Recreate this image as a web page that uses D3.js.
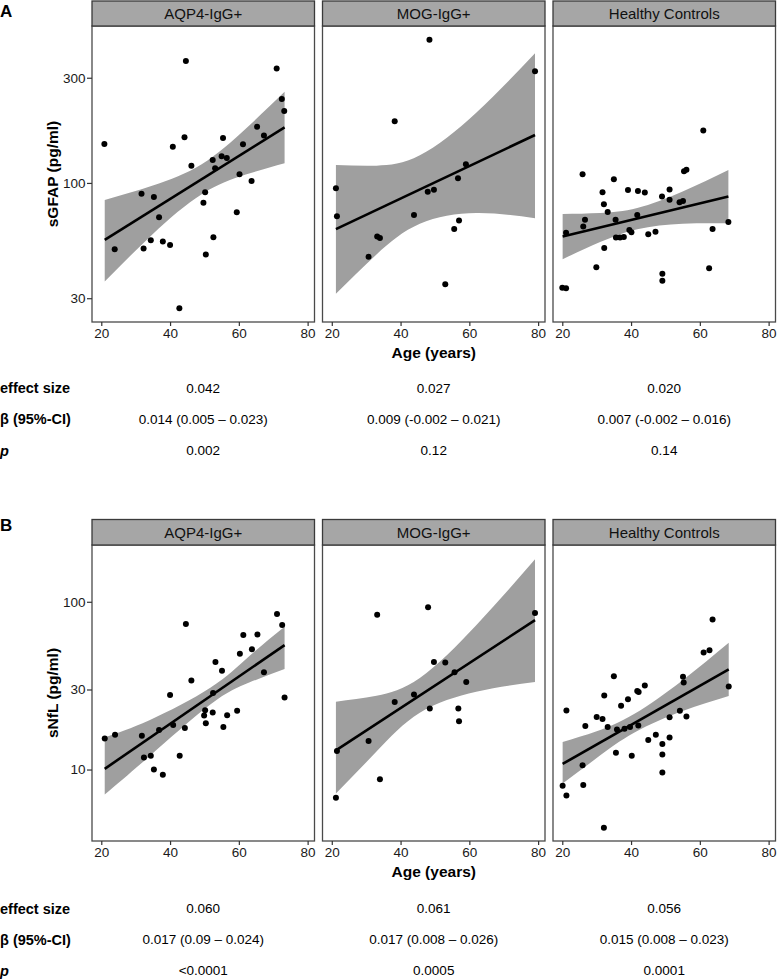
<!DOCTYPE html>
<html><head><meta charset="utf-8">
<script src="https://cdn.jsdelivr.net/npm/d3@7"></script>
<style>
body{margin:0;background:#fff}
svg{display:block}
text{font-family:"Liberation Sans",Arial,Helvetica,sans-serif}
</style>
</head><body>
<svg id="c" width="777" height="980"></svg>
<script>
// ---------- data ----------
const facets = ["AQP4-IgG+", "MOG-IgG+", "Healthy Controls"];
const xTicks = [20, 40, 60, 80];
const gfapTicks = [30, 100, 300];
const nflTicks = [10, 30, 100];

// sGFAP points [age, pg/ml]
const gfapAQP4 = [[20.9,150],[23.9,50],[31.7,89.4],[32.3,50.4],[34.4,55],[35.3,86.4],[36.8,69.9],[37.9,54.2],[40.0,52.3],[40.8,146],[42.7,27.0],[44.2,161],[44.6,357],[46.2,119.7],[49.7,81.4],[50.2,90.8],[50.4,47.3],[52.4,127],[52.6,56.7],[53.1,116.6],[55.4,160],[55.0,132],[56.5,129.8],[59.4,73.6],[60.2,109.4],[61.2,149.7],[63.7,102],[65.3,180],[67.3,164],[71.0,330],[72.5,240],[73.2,212]];
const gfapMOG = [[48.4,446],[79.1,321],[38.3,190.5],[59.0,121.6],[56.7,105],[21.2,94.6],[47.9,91.3],[49.7,93.2],[21.5,70.6],[43.9,71.6],[57.0,67.5],[55.6,61.8],[33.2,57.1],[34.0,56.3],[30.7,46.2],[53.0,34.7]];
const gfapHC = [[61.0,172.7],[25.9,109.5],[35.0,103.9],[55.4,113],[56.1,114.9],[31.7,90.8],[39.1,93.0],[42.0,92.0],[44.0,90.4],[49.0,86.7],[51.2,93.3],[51.2,84.0],[54.1,81.7],[55.1,82.8],[32.1,80.0],[33.2,73.8],[26.6,68.0],[26.1,63.4],[21.1,59.5],[35.5,68.0],[41.8,71.6],[39.5,61.2],[40.1,59.7],[35.6,56.5],[36.8,56.5],[37.9,56.9],[45.0,58.5],[47.1,60.1],[68.3,66.5],[63.7,61.8],[32.2,50.7],[29.9,41.5],[62.7,41.0],[49.1,38.7],[49.1,36.0],[20.0,33.5],[21.1,33.3]];

// sNfL points [age, pg/ml]
const nflAQP4 = [[21.0,15.3],[24.0,16.1],[31.8,15.9],[32.4,11.8],[34.4,12.1],[35.3,10.0],[37.9,9.3],[36.8,17.2],[40.0,27.8],[40.9,18.4],[42.8,12.1],[44.3,17.7],[44.6,73.6],[46.2,34.0],[49.9,21.0],[50.2,22.6],[50.4,18.9],[52.4,21.9],[52.5,28.6],[53.2,43.7],[55.1,38.8],[55.5,17.9],[56.6,21.1],[59.5,22.4],[60.3,49.0],[61.3,63.3],[63.8,52.2],[65.4,63.9],[67.3,38.0],[71.1,84.5],[72.6,72.6],[73.3,26.9]];
const nflMOG = [[33.2,83.6],[48.0,92.9],[79.1,85.7],[49.7,43.7],[53.0,43.5],[55.7,38.0],[59.1,33.2],[43.9,28.0],[38.3,25.3],[48.5,23.1],[56.8,23.1],[57.0,19.4],[30.7,14.8],[21.5,12.9],[34.0,8.75],[21.2,6.8]];
const nflHC = [[63.7,78.5],[61.1,49.9],[62.8,51.5],[68.4,31.3],[55.1,35.7],[55.3,33.0],[35.0,36.0],[44.0,31.7],[41.8,29.4],[42.2,29.0],[32.2,27.6],[39.1,26.2],[37.1,24.0],[21.2,22.5],[30.0,20.6],[31.7,20.0],[51.2,20.5],[54.2,22.4],[56.1,20.7],[26.7,18.2],[33.2,17.9],[35.9,17.3],[38.1,17.5],[39.7,17.9],[42.1,18.3],[47.2,16.1],[45.0,15.0],[49.1,14.2],[51.2,15.5],[49.1,12.3],[35.6,12.6],[40.2,12.1],[49.1,9.6],[25.9,10.6],[26.1,8.1],[20.1,8.0],[21.2,7.0],[32.1,4.5]];

// fitted lines: [[age0, val0],[age1, val1]]
const gfapFits = [[[21.0,55.2],[73.3,178.6]], [[21.2,61.7],[79.1,165]], [[20.1,57.1],[68.3,86.7]]];
const nflFits  = [[[21.0,10.1],[73.3,55.2]],  [[21.2,13.0],[79.1,77.8]], [[20.1,10.8],[68.4,39.5]]];

// 95% CI ribbons
const gfapBandAge = [[21,35,49.2,62,73.3],[21.2,33,45.6,62,79.1],[20.1,31,41.8,55,68.3]];
const gfapBandLo  = [[35.7,58.7,88.9,109.1,122.8],[31.4,47.4,65.3,73.0,69.2],[45.1,53.9,61.7,65.3,65.6]];
const gfapBandHi  = [[83.7,97.4,121.6,176.1,259],[120.7,119.8,133.4,208.3,387],[72.3,73.1,77.0,91.5,114.5]];
const nflBandAge = [[21,34,51.7,63,73.3],[21.2,33,45.6,62,79.1],[20.1,30,41,55,68.4]];
const nflBandLo  = [[7.1,12.0,24.4,33.0,39.7],[7.2,12.8,21.8,29.1,33.3],[8.25,11.7,16.6,22.3,27.4]];
const nflBandHi  = [[15.6,19.7,30.7,47.3,71.0],[25.4,27.5,35.1,72.5,179],[14.6,16.9,21.5,34.1,56.9]];

// tables
const rowLabels = ["effect size", "β (95%-CI)", "p"];
const gfapEffect = ["0.042", "0.027", "0.020"];
const gfapBeta = ["0.014 (0.005 – 0.023)", "0.009 (-0.002 – 0.021)", "0.007 (-0.002 – 0.016)"];
const gfapP = ["0.002", "0.12", "0.14"];
const nflEffect = ["0.060", "0.061", "0.056"];
const nflBeta = ["0.017 (0.09 – 0.024)", "0.017 (0.008 – 0.026)", "0.015 (0.008 – 0.023)"];
const nflP = ["<0.0001", "0.0005", "0.0001"];

// ---------- drawing ----------
const svg = d3.select("#c");
const panelLeft = [92, 322.5, 553];
const panelW = 222.5;
const xDomain = [17.3, 82];

function drawRow(cfg) {
  const g = svg.append("g");
  // panel letter
  g.append("text").attr("x", 0).attr("y", cfg.letterY).attr("font-size", 17).attr("font-weight", "bold")
    .attr("fill", "#000").text(cfg.letter);

  const y = d3.scaleLog().domain(cfg.yDomain).range([cfg.plotBottom, cfg.plotTop]);

  facets.forEach((f, i) => {
    const x0 = panelLeft[i];
    const x = d3.scaleLinear().domain(xDomain).range([x0, x0 + panelW]);
    const pg = g.append("g");

    const cid = "clip" + cfg.letter + i;
    pg.append("clipPath").attr("id", cid).append("rect")
      .attr("x", x0).attr("y", cfg.plotTop).attr("width", panelW).attr("height", cfg.plotBottom - cfg.plotTop);
    const inner = pg.append("g").attr("clip-path", `url(#${cid})`);

    // ribbon
    const band = cfg.bandAge[i].map((a, k) => ({a, lo: cfg.bandLo[i][k], hi: cfg.bandHi[i][k]}));
    inner.append("path").datum(band)
      .attr("d", d3.area().curve(d3.curveNatural).x(d => x(d.a)).y0(d => y(d.lo)).y1(d => y(d.hi)))
      .attr("fill", "#9f9f9f");
    // fit line
    inner.append("path").datum(cfg.fits[i])
      .attr("d", d3.line().x(d => x(d[0])).y(d => y(d[1])))
      .attr("stroke", "#000").attr("stroke-width", 2.6).attr("fill", "none");
    // points
    inner.selectAll("circle").data(cfg.points[i]).join("circle")
      .attr("cx", d => x(d[0])).attr("cy", d => y(d[1])).attr("r", 3).attr("fill", "#000");

    // panel border
    pg.append("rect").attr("x", x0).attr("y", cfg.plotTop).attr("width", panelW)
      .attr("height", cfg.plotBottom - cfg.plotTop).attr("fill", "none")
      .attr("stroke", "#4a4a4a").attr("stroke-width", 1.3);
    // strip
    pg.append("rect").attr("x", x0).attr("y", cfg.stripTop).attr("width", panelW)
      .attr("height", cfg.plotTop - cfg.stripTop).attr("fill", "#a6a6a6")
      .attr("stroke", "#3a3a3a").attr("stroke-width", 1.3);
    pg.append("text").attr("x", x0 + panelW / 2).attr("y", (cfg.stripTop + cfg.plotTop) / 2)
      .attr("dy", "0.36em").attr("text-anchor", "middle").attr("font-size", 15).attr("fill", "#111")
      .text(f);

    // x axis
    const xa = pg.append("g").attr("transform", `translate(0,${cfg.plotBottom})`)
      .call(d3.axisBottom(x).tickValues(xTicks).tickSize(4).tickPadding(2));
    xa.select(".domain").remove();
    xa.selectAll("line").attr("stroke", "#333").attr("stroke-width", 1.2);
    xa.selectAll("text").attr("font-size", 13.5).attr("fill", "#1a1a1a")
      .attr("font-family", "'Liberation Sans',Arial,sans-serif");

    if (i === 0) {
      const ya = pg.append("g").attr("transform", `translate(${x0},0)`)
        .call(d3.axisLeft(y).tickValues(cfg.yTicks).tickFormat(d3.format("d")).tickSize(5).tickPadding(1.5));
      ya.select(".domain").remove();
      ya.selectAll("line").attr("stroke", "#333").attr("stroke-width", 1.2);
      ya.selectAll("text").attr("font-size", 13.5).attr("fill", "#1a1a1a")
        .attr("font-family", "'Liberation Sans',Arial,sans-serif");
    }

    // table values
    cfg.table.forEach((row, r) => {
      g.append("text").attr("x", x0 + panelW / 2).attr("y", cfg.tableY[r]).attr("dy", "0.36em")
        .attr("text-anchor", "middle").attr("font-size", 13.5).attr("fill", "#000").text(row[i]);
    });
  });

  // y title
  g.append("text").attr("transform", `translate(52,${(cfg.plotTop + cfg.plotBottom) / 2}) rotate(-90)`)
    .attr("dy", "0.36em").attr("text-anchor", "middle").attr("font-size", 15.5).attr("font-weight", "bold")
    .attr("fill", "#000").text(cfg.yTitle);
  // x title
  g.append("text").attr("x", panelLeft[1] + panelW / 2).attr("y", cfg.xTitleY).attr("dy", "0.36em")
    .attr("text-anchor", "middle").attr("font-size", 15.5).attr("font-weight", "bold").attr("fill", "#000")
    .text("Age (years)");
  // row labels
  rowLabels.forEach((lab, r) => {
    g.append("text").attr("x", 0).attr("y", cfg.tableY[r]).attr("dy", "0.36em")
      .attr("font-size", 14.5).attr("font-weight", "bold").attr("font-style", r === 2 ? "italic" : "normal")
      .attr("fill", "#000").text(lab);
  });
}

drawRow({
  letter: "A", letterY: 17, stripTop: 1, plotTop: 26, plotBottom: 322,
  yDomain: [23.4, 515], yTicks: gfapTicks, yTitle: "sGFAP (pg/ml)",
  points: [gfapAQP4, gfapMOG, gfapHC], fits: gfapFits,
  bandAge: gfapBandAge, bandLo: gfapBandLo, bandHi: gfapBandHi,
  xTitleY: 352, table: [gfapEffect, gfapBeta, gfapP], tableY: [388, 419, 450.5]
});
drawRow({
  letter: "B", letterY: 531, stripTop: 519.5, plotTop: 545, plotBottom: 841,
  yDomain: [3.75, 218], yTicks: nflTicks, yTitle: "sNfL (pg/ml)",
  points: [nflAQP4, nflMOG, nflHC], fits: nflFits,
  bandAge: nflBandAge, bandLo: nflBandLo, bandHi: nflBandHi,
  xTitleY: 871, table: [nflEffect, nflBeta, nflP], tableY: [908.5, 939.5, 970.5]
});
</script>
</body></html>
